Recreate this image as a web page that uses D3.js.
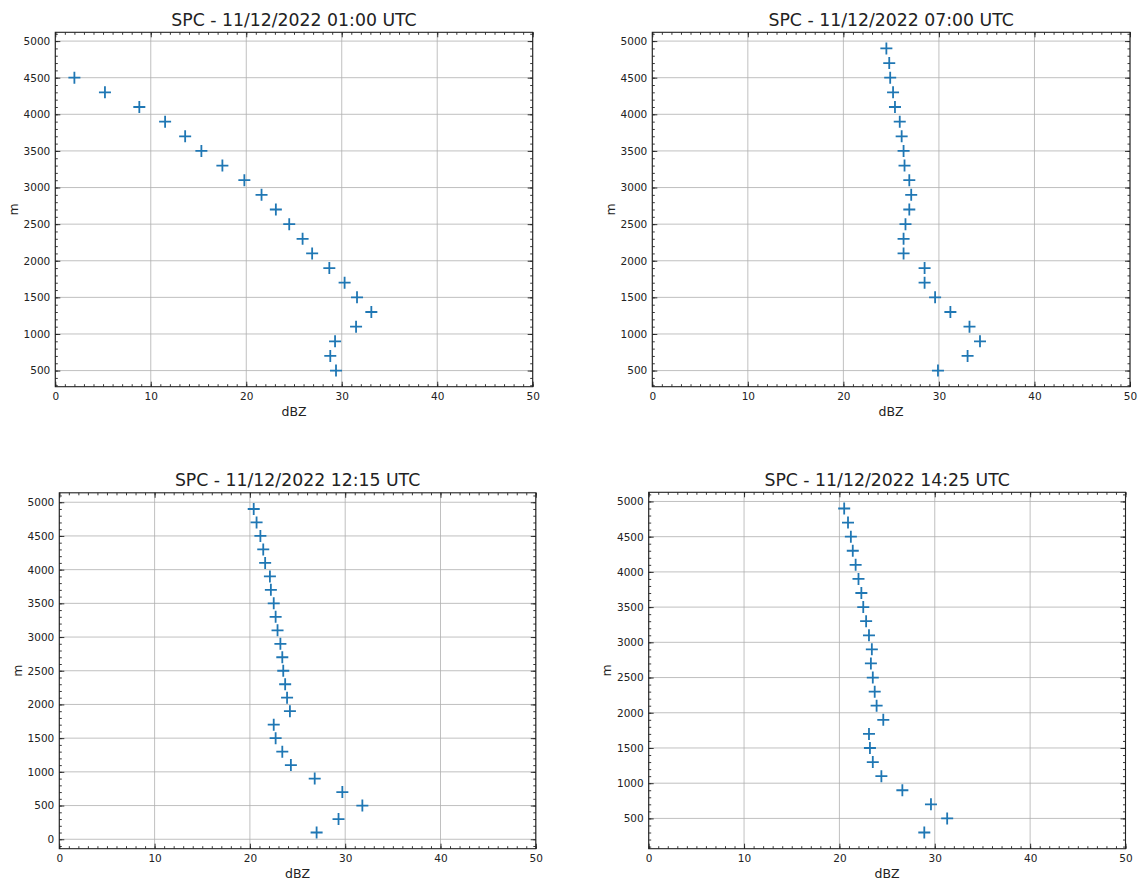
<!DOCTYPE html>
<html>
<head>
<meta charset="utf-8">
<script src="https://cdn.jsdelivr.net/npm/d3@7"></script>
<style>
  body { margin: 0; background: #fff; }
  text { font-family: "DejaVu Sans", sans-serif; fill: #222; }
  .grid line { stroke: #b0b0b0; stroke-width: 0.8; }
</style>
</head>
<body>
<div id="chart"></div>
<script>

// heights (m) for each profile
var heights_0100 = [4500, 4300, 4100, 3900, 3700, 3500, 3300, 3100, 2900, 2700, 2500, 2300, 2100, 1900, 1700, 1500, 1300, 1100, 900, 700, 500];
var dbz_0100     = [2.0, 5.2, 8.8, 11.5, 13.6, 15.3, 17.5, 19.8, 21.6, 23.1, 24.5, 25.9, 26.9, 28.7, 30.3, 31.6, 33.1, 31.5, 29.3, 28.8, 29.4];

var heights_0700 = [4900, 4700, 4500, 4300, 4100, 3900, 3700, 3500, 3300, 3100, 2900, 2700, 2500, 2300, 2100, 1900, 1700, 1500, 1300, 1100, 900, 700, 500];
var dbz_0700     = [24.5, 24.8, 24.9, 25.2, 25.4, 25.9, 26.1, 26.3, 26.4, 26.9, 27.1, 26.9, 26.5, 26.3, 26.3, 28.5, 28.5, 29.6, 31.2, 33.2, 34.3, 33.0, 29.9];

var heights_1215 = [4900, 4700, 4500, 4300, 4100, 3900, 3700, 3500, 3300, 3100, 2900, 2700, 2500, 2300, 2100, 1900, 1700, 1500, 1300, 1100, 900, 700, 500, 300, 100];
var dbz_1215     = [20.4, 20.7, 21.1, 21.4, 21.6, 22.1, 22.2, 22.5, 22.7, 22.9, 23.2, 23.4, 23.5, 23.7, 23.9, 24.2, 22.5, 22.7, 23.4, 24.3, 26.8, 29.7, 31.8, 29.3, 27.0];

var heights_1425 = [4900, 4700, 4500, 4300, 4100, 3900, 3700, 3500, 3300, 3100, 2900, 2700, 2500, 2300, 2100, 1900, 1700, 1500, 1300, 1100, 900, 700, 500, 300];
var dbz_1425     = [20.5, 20.9, 21.2, 21.4, 21.7, 22.0, 22.3, 22.5, 22.8, 23.1, 23.4, 23.3, 23.5, 23.7, 23.9, 24.6, 23.1, 23.2, 23.5, 24.4, 26.6, 29.6, 31.3, 28.9];

var titles = ["SPC - 11/12/2022 01:00 UTC", "SPC - 11/12/2022 07:00 UTC", "SPC - 11/12/2022 12:15 UTC", "SPC - 11/12/2022 14:25 UTC"];
var x_ticks = [0, 10, 20, 30, 40, 50];
var y_ticks_a = [500, 1000, 1500, 2000, 2500, 3000, 3500, 4000, 4500, 5000];
var y_ticks_b = [0, 500, 1000, 1500, 2000, 2500, 3000, 3500, 4000, 4500, 5000];

var width = 1138, height = 884;
var svg = d3.select("#chart").append("svg")
  .attr("width", width)
  .attr("height", height);

// box of each panel in page pixels + y range shown
var panels = [
  {title: titles[0], h: heights_0100, v: dbz_0100, box: [55.3, 532.7, 32.3, 386.7], ydom: [280, 5120], yt: y_ticks_a},
  {title: titles[1], h: heights_0700, v: dbz_0700, box: [652.3, 1130, 32.3, 386.7], ydom: [280, 5120], yt: y_ticks_a},
  {title: titles[2], h: heights_1215, v: dbz_1215, box: [59.3, 535.8, 492.8, 848.7], ydom: [-140, 5140], yt: y_ticks_b},
  {title: titles[3], h: heights_1425, v: dbz_1425, box: [648.7, 1125.5, 492.3, 848.7], ydom: [70, 5130], yt: y_ticks_a}
];

panels.forEach(function(p) { drawPanel(p) });

function drawPanel(p) {
  var l = p.box[0], r = p.box[1], t = p.box[2], b = p.box[3];
  var w = r - l, h = b - t;

  var g = svg.append("g").attr("transform", "translate(" + l + "," + t + ")");

  var x = d3.scaleLinear().domain([0, 50]).range([0, w]);
  var y = d3.scaleLinear().domain(p.ydom).range([h, 0]);

  // grid
  var grid = g.append("g").attr("class", "grid");
  grid.selectAll(".gx").data(x_ticks).enter().append("line")
    .attr("x1", function(d) { return x(d) }).attr("x2", function(d) { return x(d) })
    .attr("y1", 0).attr("y2", h);
  grid.selectAll(".gy").data(p.yt).enter().append("line")
    .attr("y1", function(d) { return y(d) }).attr("y2", function(d) { return y(d) })
    .attr("x1", 0).attr("x2", w);

  // minor ticks
  var xminor = d3.range(0, 51, 1);
  var yminor = d3.range(Math.ceil(p.ydom[0] / 100) * 100, p.ydom[1], 100);

  // axes, ticks pointing in, on all four sides
  function styleAxis(sel) {
    sel.select(".domain").remove();
    sel.selectAll("line").attr("stroke", "#222").attr("stroke-width", 0.9);
    sel.selectAll("text").style("font-size", "10.5px").attr("fill", "#222");
  }

  var xb = g.append("g").attr("transform", "translate(0," + h + ")")
    .call(d3.axisBottom(x).tickValues(x_ticks).tickFormat(d3.format("d")).tickSizeInner(-5).tickPadding(5.5));
  styleAxis(xb);
  g.append("g").attr("transform", "translate(0," + h + ")")
    .call(d3.axisBottom(x).tickValues(xminor).tickFormat("").tickSizeInner(-2.5)).call(styleAxis);

  g.append("g")
    .call(d3.axisTop(x).tickValues(x_ticks).tickFormat("").tickSizeInner(-5)).call(styleAxis);
  g.append("g").call(d3.axisTop(x).tickValues(xminor).tickFormat("").tickSizeInner(-2.5)).call(styleAxis);

  g.append("g")
    .call(d3.axisLeft(y).tickValues(p.yt).tickFormat(d3.format("d")).tickSizeInner(-5).tickPadding(5))
    .call(styleAxis);
  g.append("g").call(d3.axisLeft(y).tickValues(yminor).tickFormat("").tickSizeInner(-2.5)).call(styleAxis);

  g.append("g").attr("transform", "translate(" + w + ",0)")
    .call(d3.axisRight(y).tickValues(p.yt).tickFormat("").tickSizeInner(-5)).call(styleAxis);
  g.append("g").attr("transform", "translate(" + w + ",0)")
    .call(d3.axisRight(y).tickValues(yminor).tickFormat("").tickSizeInner(-2.5)).call(styleAxis);

  // frame
  g.append("rect")
    .attr("width", w).attr("height", h)
    .attr("fill", "none").attr("stroke", "#222").attr("stroke-width", 1.1);

  // plus markers
  var pts = p.h.map(function(hh, i) { return {h: hh, v: p.v[i]} });
  var s = 6;
  g.selectAll(".pt").data(pts).enter().append("path")
    .attr("class", "pt")
    .attr("d", function(d) {
      var cx = x(d.v), cy = y(d.h);
      return "M" + (cx - s) + "," + cy + "H" + (cx + s) + "M" + cx + "," + (cy - s) + "V" + (cy + s);
    })
    .attr("stroke", "#1f77b4").attr("stroke-width", 1.8).attr("fill", "none");

  // labels
  g.append("text")
    .attr("x", w / 2).attr("y", -6.5)
    .attr("text-anchor", "middle")
    .style("font-size", "17.3px")
    .text(p.title);

  g.append("text")
    .attr("x", w / 2).attr("y", h + 29.5)
    .attr("text-anchor", "middle")
    .style("font-size", "12.5px")
    .text("dBZ");

  g.append("text")
    .attr("transform", "translate(-37.5," + (h / 2) + ") rotate(-90)")
    .attr("text-anchor", "middle")
    .style("font-size", "12.5px")
    .text("m");
}
</script>
</body>
</html>
